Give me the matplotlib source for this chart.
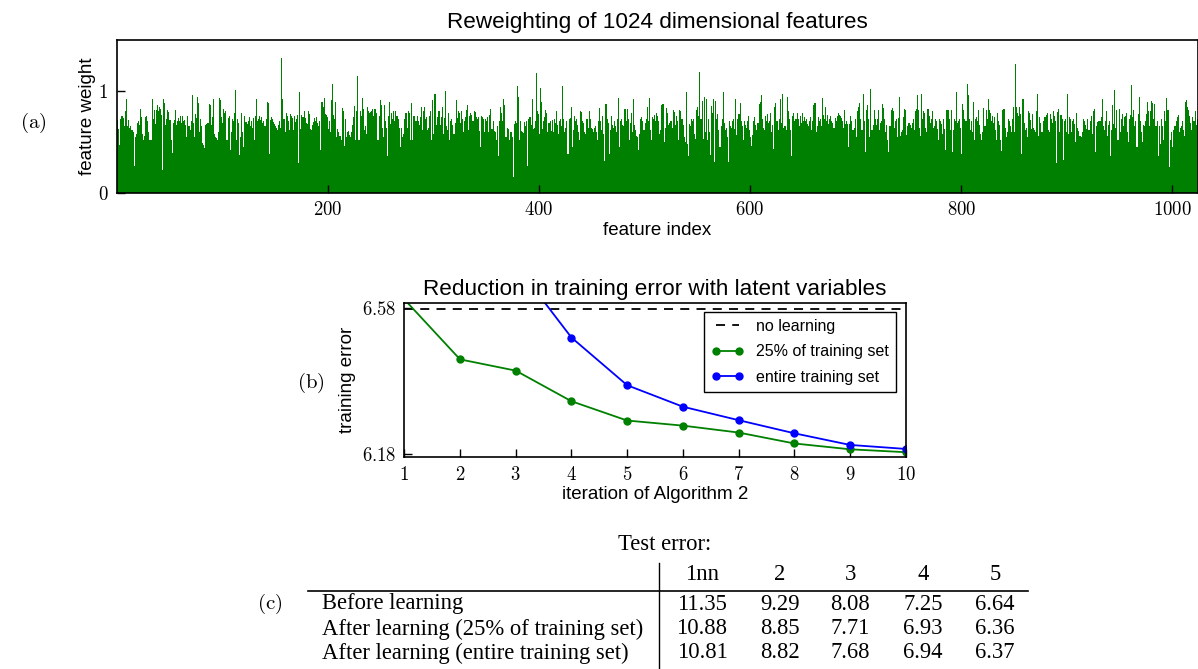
import numpy as np
import matplotlib
matplotlib.use("Agg")
import matplotlib.pyplot as plt
from matplotlib.lines import Line2D
from matplotlib.ticker import FuncFormatter

plt.rcParams['font.family'] = ['Liberation Sans', 'DejaVu Sans']
plt.rcParams['mathtext.fontset'] = 'cm'

# feature weights, in hundredths, one row per ~1/6 of the axis
w_part1 = [71, 63, 47, 72, 75, 75, 73, 65, 80, 92, 65, 71, 64, 65, 62, 60, 26, 55, 58, 68,
           70, 66, 82, 74, 58, 52, 56, 74, 75, 70, 60, 52, 52, 92, 72, 81, 67, 81, 86, 80,
           84, 82, 76, 22, 92, 88, 66, 72, 81, 79, 71, 52, 39, 68, 71, 81, 66, 70, 73, 70,
           75, 68, 75, 70, 71, 66, 55, 75, 65, 62, 70, 96, 68, 55, 77, 73, 94, 88, 60, 72,
           65, 49, 47, 44, 66, 67, 68, 87, 86, 66, 74, 92, 58, 55, 54, 52, 60, 93, 91, 74,
           68, 82, 78, 80, 52, 73, 75, 42, 60, 72, 70, 78, 101, 52, 72, 68, 37, 55, 78, 60,
           45, 75, 69, 67, 70, 74, 65, 70, 64, 73, 52, 75, 92, 70, 72, 75, 71, 74, 68, 70,
           65, 72, 89, 88, 38, 71, 74, 72, 69, 67, 65, 64, 62, 66, 70, 64, 132, 92, 72, 60,
           78, 75, 70, 62, 77, 75, 73, 62, 75, 69, 72]
w_part2 = [76, 29, 99, 63, 76, 74, 80, 73, 68, 67, 80, 77, 63, 62, 66, 69, 73, 70, 74, 68,
           65, 70, 42, 89, 84, 93, 77, 76, 74, 63, 70, 60, 91, 107, 76, 72, 89, 55, 63, 60,
           56, 52, 83, 80, 46, 72, 55, 60, 61, 57, 55, 60, 66, 74, 85, 52, 80, 114, 52, 80,
           75, 93, 82, 62, 65, 58, 84, 80, 78, 79, 80, 82, 75, 82, 82, 78, 52, 75, 91, 86,
           64, 55, 86, 70, 64, 36, 75, 89, 67, 78, 72, 80, 70, 80, 75, 72, 64, 45, 64, 55,
           58, 72, 78, 78, 64, 80, 78, 52, 88, 52, 75, 75, 70, 75, 70, 66, 74, 84, 62, 80,
           84, 72, 74, 62, 64, 75, 80, 52, 91, 58, 97, 66, 74, 80, 80, 66, 74, 84, 58, 73,
           100, 65, 62, 78, 52, 70, 72, 66, 58, 68, 91, 73, 80, 78, 68, 80, 72, 60, 70, 74,
           81, 86, 62, 75, 78, 76, 70, 80, 79, 74, 72]
w_part3 = [74, 61, 45, 75, 74, 72, 60, 72, 70, 74, 60, 76, 82, 63, 70, 61, 60, 52, 65, 36,
           70, 84, 78, 70, 92, 86, 55, 55, 64, 63, 52, 60, 55, 16, 67, 70, 68, 105, 94, 52,
           70, 61, 60, 59, 69, 65, 70, 26, 72, 74, 66, 92, 63, 64, 70, 117, 80, 77, 58, 103,
           89, 63, 70, 74, 81, 78, 60, 68, 70, 61, 71, 60, 72, 68, 80, 66, 58, 70, 72, 65,
           105, 72, 60, 64, 70, 38, 72, 73, 84, 45, 62, 75, 70, 72, 66, 60, 52, 80, 79, 70,
           68, 60, 58, 72, 64, 80, 72, 64, 63, 60, 64, 65, 60, 52, 70, 83, 70, 62, 75, 58,
           31, 87, 72, 68, 38, 62, 75, 66, 64, 70, 65, 60, 72, 93, 45, 70, 72, 66, 65, 82,
           70, 82, 72, 52, 68, 78, 60, 92, 66, 62, 56, 55, 42, 58, 72, 74, 70, 62, 68, 72,
           84, 70, 93, 62, 52, 74, 72, 76, 70, 78, 75]
w_part4 = [70, 58, 62, 86, 87, 50, 64, 83, 78, 66, 68, 70, 70, 64, 81, 79, 66, 75, 70, 52,
           81, 80, 72, 66, 55, 50, 99, 48, 36, 67, 65, 72, 70, 72, 58, 53, 81, 84, 75, 118,
           72, 90, 53, 94, 60, 92, 52, 72, 60, 37, 85, 78, 92, 30, 90, 72, 77, 62, 45, 65,
           72, 99, 68, 62, 64, 55, 30, 70, 65, 64, 70, 72, 63, 92, 57, 72, 77, 88, 70, 65,
           52, 70, 66, 64, 70, 75, 62, 55, 46, 57, 70, 74, 66, 62, 68, 87, 89, 96, 72, 64,
           62, 75, 70, 77, 68, 70, 78, 60, 66, 43, 84, 88, 70, 62, 72, 92, 68, 97, 64, 65,
           65, 62, 94, 80, 72, 62, 36, 75, 78, 70, 72, 78, 72, 65, 75, 68, 78, 70, 74, 70,
           72, 67, 65, 70, 74, 62, 70, 86, 88, 60, 65, 74, 70, 72, 65, 93, 76, 72, 84, 70,
           76, 67, 72, 75, 70, 68, 64, 73, 70, 75, 78]
w_part5 = [76, 75, 73, 70, 64, 81, 67, 70, 67, 45, 67, 75, 70, 62, 64, 72, 55, 80, 84, 88,
           72, 62, 62, 97, 70, 40, 81, 86, 72, 55, 102, 62, 66, 81, 72, 66, 72, 81, 62, 68,
           70, 87, 83, 72, 60, 66, 52, 40, 65, 81, 83, 80, 64, 70, 72, 55, 73, 94, 56, 60,
           62, 74, 82, 81, 57, 65, 68, 66, 64, 68, 72, 62, 80, 82, 96, 81, 64, 56, 97, 72,
           80, 78, 64, 60, 82, 75, 68, 72, 80, 64, 65, 72, 70, 63, 52, 72, 70, 67, 58, 72,
           63, 42, 81, 81, 72, 62, 81, 40, 62, 72, 70, 99, 68, 70, 72, 64, 38, 87, 81, 72,
           70, 107, 96, 72, 62, 70, 60, 89, 52, 72, 74, 70, 81, 66, 58, 52, 60, 83, 65, 81,
           72, 92, 81, 78, 70, 75, 68, 74, 62, 52, 78, 70, 66, 52, 41, 81, 82, 64, 55, 60,
           72, 70, 65, 60, 72, 84, 60, 126, 84, 78, 75]
w_part6 = [84, 77, 38, 92, 68, 62, 64, 55, 80, 78, 71, 63, 77, 64, 62, 60, 80, 97, 56, 74,
           68, 60, 70, 74, 74, 76, 78, 62, 60, 77, 72, 68, 80, 75, 70, 29, 79, 82, 60, 76,
           72, 32, 70, 72, 60, 97, 58, 74, 72, 60, 70, 72, 67, 50, 78, 64, 61, 56, 55, 60,
           72, 70, 66, 63, 72, 62, 62, 70, 75, 58, 80, 82, 40, 65, 69, 70, 70, 74, 92, 65,
           62, 70, 80, 56, 66, 70, 36, 62, 86, 67, 101, 64, 81, 52, 82, 60, 72, 77, 65, 74,
           75, 78, 60, 50, 72, 76, 106, 74, 81, 65, 70, 45, 77, 94, 70, 60, 50, 66, 65, 70,
           77, 89, 80, 65, 80, 90, 88, 72, 87, 65, 70, 36, 65, 48, 72, 65, 52, 80, 70, 93,
           81, 81, 25, 52, 60, 45, 62, 65, 70, 74, 76, 60, 64, 65, 70, 62, 56, 89, 91, 84,
           81, 75, 68, 62, 74, 70, 80, 66, 72]

iterations = [1, 2, 3, 4, 5, 6, 7, 8, 9, 10]
no_learning = 6.578
err_quarter = [6.605, 6.440, 6.409, 6.325, 6.272, 6.258, 6.239, 6.209, 6.193, 6.185]
err_entire = [7.000, 6.850, 6.700, 6.500, 6.369, 6.310, 6.273, 6.237, 6.205, 6.194]

table_cols = ['1nn', '2', '3', '4', '5']
table_rows = ['Before learning',
              'After learning (25% of training set)',
              'After learning (entire training set)']
table_vals = [['11.35', '9.29', '8.08', '7.25', '6.64'],
              ['10.88', '8.85', '7.71', '6.93', '6.36'],
              ['10.81', '8.82', '7.68', '6.94', '6.37']]

weights = np.array(w_part1 + w_part2 + w_part3 + w_part4 + w_part5 + w_part6) / 100.0

W, H = 1198.0, 669.0
fig = plt.figure(figsize=(W / 100, H / 100), dpi=100)

cm_fmt = FuncFormatter(lambda v, p: '$%g$' % v)

# (a) feature weights
ax1 = fig.add_axes([116.7 / W, 1 - 193 / H, 1081 / W, 153.5 / H])
ax1.bar(np.arange(len(weights)), weights, width=1.0, align='edge',
        color='green', linewidth=0)
ax1.set_xlim(0, 1024)
ax1.set_ylim(0, 1.5)
ax1.set_xticks([200, 400, 600, 800, 1000])
ax1.set_yticks([0, 1])
ax1.xaxis.set_major_formatter(cm_fmt)
ax1.yaxis.set_major_formatter(cm_fmt)
ax1.set_xlabel('feature index', fontsize=13.5, labelpad=2)
ax1.set_ylabel('feature weight', fontsize=13.5, labelpad=1)
ax1.set_title('Reweighting of 1024 dimensional features', fontsize=16.2, pad=8)

# (b) training error
ax2 = fig.add_axes([404.3 / W, 1 - 457.3 / H, 501.4 / W, 154 / H])
ax2.axhline(no_learning, color='black', ls='--', lw=1.3, dashes=(5, 4), label='no learning')
ax2.plot(iterations, err_quarter, '-o', color='green', lw=1.3, ms=5,
         label='25% of training set')
ax2.plot(iterations, err_entire, '-o', color='blue', lw=1.3, ms=5,
         label='entire training set')
ax2.set_xlim(1, 10)
ax2.set_ylim(6.171, 6.594)
ax2.set_xticks(iterations)
ax2.set_yticks([6.18, 6.58])
ax2.xaxis.set_major_formatter(cm_fmt)
ax2.yaxis.set_major_formatter(FuncFormatter(lambda v, p: '$%.2f$' % v))
ax2.set_xlabel('iteration of Algorithm 2', fontsize=13.5, labelpad=2)
ax2.set_ylabel('training error', fontsize=13.5, labelpad=4)
ax2.set_title('Reduction in training error with latent variables', fontsize=16.2, pad=6)
leg = ax2.legend(loc='upper right', bbox_to_anchor=(0.981, 0.9455), borderaxespad=0,
                 fontsize=11.5, numpoints=2, fancybox=False, framealpha=1,
                 handlelength=2.0, labelspacing=0.65, borderpad=0.45)
leg.get_frame().set_edgecolor('black')
leg.get_frame().set_linewidth(1.0)

for ax in (ax1, ax2):
    for s in ax.spines.values():
        s.set_linewidth(1.2)
    ax.tick_params(direction='in', length=6, width=1, labelsize=13.5, pad=6,
                   top=False, right=False)

# panel letters
for lab, x, y in [('a', 33, 123), ('b', 311, 383), ('c', 270, 604)]:
    fig.text(x / W, 1 - y / H, r'$\mathrm{(%s)}$' % lab, fontsize=15, ha='center', va='center')

# (c) test error table
serif = ['Liberation Serif', 'DejaVu Serif']
tsize = 16.3
fig.text(665 / W, 1 - 545 / H, 'Test error:', family=serif, fontsize=tsize,
         ha='center', va='center')
col_x = [702, 780, 850, 923, 995]
for cx, c in zip(col_x, table_cols):
    fig.text(cx / W, 1 - 574 / H, c, family=serif, fontsize=tsize, ha='center', va='center')
row_y = [604, 629, 653]
for ry, name, vals in zip(row_y, table_rows, table_vals):
    fig.text(322 / W, 1 - ry / H, name, family=serif, fontsize=tsize, ha='left', va='center')
    for cx, v in zip(col_x, vals):
        fig.text(cx / W, 1 - ry / H, v, family=serif, fontsize=tsize, ha='center', va='center')
fig.add_artist(Line2D([308 / W, 1028 / W], [1 - 591 / H, 1 - 591 / H], color='black', lw=1.2))
fig.add_artist(Line2D([659 / W, 659 / W], [1 - 563 / H, 0], color='black', lw=1.0))

fig.savefig('out.png', dpi=100)
